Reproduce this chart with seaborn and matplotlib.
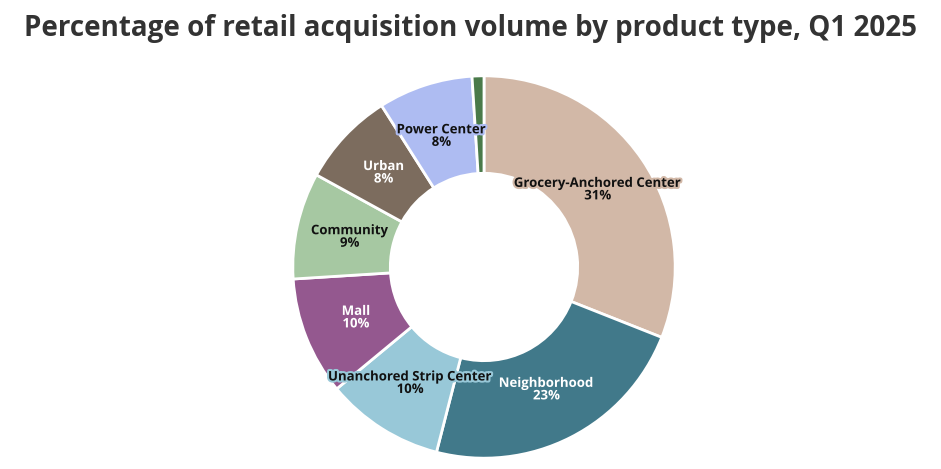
import matplotlib
matplotlib.use("Agg")
import matplotlib.pyplot as plt
import matplotlib.patheffects as pe
import seaborn as sns
import numpy as np

categories = ["Grocery-Anchored Center", "Neighborhood", "Unanchored Strip Center", "Mall",
              "Community", "Urban", "Power Center", "Other"]
values = [31, 23, 10, 10, 9, 8, 8, 1]
colors = ["#d2b8a7", "#41798a", "#98c8d8", "#94588f", "#a6c8a2", "#7c6c5e", "#aebcf2", "#4a7a4a"]
text_colors = ["#111111", "white", "#111111", "white", "#111111", "white", "#111111", None]
halo_colors = ["#d2b8a7", "#41798a", "#98c8d8", "#94588f", "#a6c8a2", "#7c6c5e", "#aebcf2", None]

sns.set_theme(style="white")
plt.rcParams["font.family"] = "Open Sans"

fig = plt.figure(figsize=(9.41, 4.69), dpi=100)
ax = fig.add_axes([(484 - 195) / 941, (469 - 267 - 195) / 469, 390 / 941, 390 / 469])
wedges, _ = ax.pie(values, colors=colors, startangle=90, counterclock=False,
                   radius=1.0, wedgeprops=dict(width=0.51, edgecolor="white", linewidth=2))
ax.set_aspect("equal")
ax.set_xlim(-1.02, 1.02)
ax.set_ylim(-1.02, 1.02)

for w, cat, v, tc, hc in zip(wedges, categories, values, text_colors, halo_colors):
    if tc is None:
        continue
    ang = np.deg2rad((w.theta1 + w.theta2) / 2)
    r = 0.72
    ax.text(r * np.cos(ang), r * np.sin(ang), f"{cat}\n{v}%", ha="center", va="center",
            fontsize=9.5, fontweight="bold", color=tc, linespacing=0.95,
            path_effects=[pe.withStroke(linewidth=3, foreground=hc)])

fig.text(0.5, 0.94, "Percentage of retail acquisition volume by product type, Q1 2025",
         ha="center", va="center", fontsize=20, fontweight="bold", color="#333333")
fig.savefig("out.png", dpi=100)
